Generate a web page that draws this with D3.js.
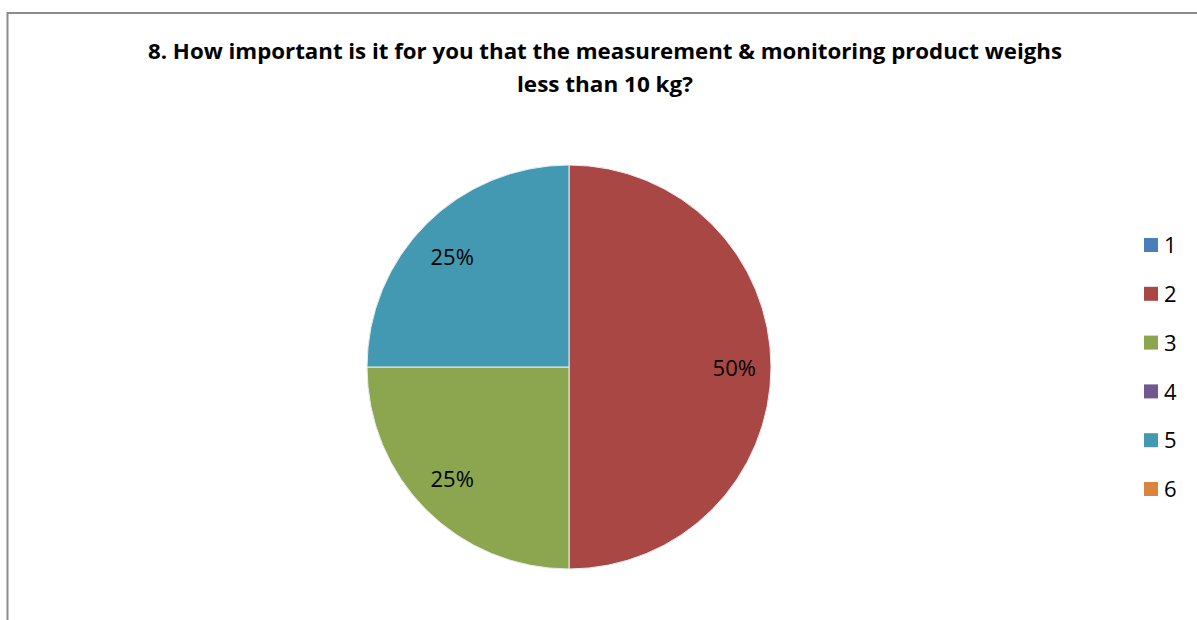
<!DOCTYPE html>
<html>
<head>
<meta charset="utf-8">
<script src="https://cdnjs.cloudflare.com/ajax/libs/d3/7.8.5/d3.min.js"></script>
<style>
  html, body { margin: 0; padding: 0; background: #fff; }
  svg { display: block; }
</style>
</head>
<body>
<div id="chart"></div>
<script>
// chart data
var titleLines = ["8. How important is it for you that the measurement & monitoring product weighs", "less than 10 kg?"];
var categories = ["1", "2", "3", "4", "5", "6"];
var counts = [0, 2, 1, 0, 1, 0];
var colors = ["#4A7EBB", "#A94744", "#8BA64F", "#71588F", "#4399B1", "#DB843D"];

var width = 1197, height = 620;
var font = "'Open Sans', sans-serif";

var svg = d3.select("#chart").append("svg")
    .attr("width", width)
    .attr("height", height);

// chart area border (only left and top visible)
svg.append("rect")
    .attr("x", 7.5).attr("y", 13)
    .attr("width", 1250).attr("height", 700)
    .attr("fill", "none")
    .attr("stroke", "#8c8c8c")
    .attr("stroke-width", 2);

// title
var title = svg.append("text")
    .attr("text-anchor", "middle")
    .attr("font-family", font)
    .attr("font-weight", "bold")
    .attr("font-size", 22)
    .attr("fill", "#000");
title.selectAll("tspan").data(titleLines).enter().append("tspan")
    .attr("x", 605)
    .attr("y", function(d, i) { return 59 + i * 33; })
    .attr("textLength", function(d, i) { return i === 0 ? 914 : 176; })
    .attr("lengthAdjust", "spacingAndGlyphs")
    .text(function(d) { return d; });

// pie
var cx = 569, cy = 367, r = 202;
var total = d3.sum(counts);
var data = categories.map(function(c, i) { return {cat: c, value: counts[i], color: colors[i]}; });

var pie = d3.pie().sort(null).value(function(d) { return d.value; });
var arc = d3.arc().innerRadius(0).outerRadius(r);
var labelArc = d3.arc().innerRadius(r * 0.81).outerRadius(r * 0.81);

var g = svg.append("g").attr("transform", "translate(" + cx + "," + cy + ")");
var arcs = pie(data).filter(function(d) { return d.data.value > 0; });

g.selectAll("path.slice").data(arcs).enter().append("path")
    .attr("class", "slice")
    .attr("d", arc)
    .attr("fill", function(d) { return d.data.color; })
    .attr("stroke", "#e8eef0")
    .attr("stroke-width", 1);

g.selectAll("text.lbl").data(arcs).enter().append("text")
    .attr("class", "lbl")
    .attr("transform", function(d) {
        var c = labelArc.centroid(d);
        return "translate(" + (c[0] * 1.01) + "," + (c[1] * 0.96) + ")";
    })
    .attr("text-anchor", "middle")
    .attr("dy", "0.4em")
    .attr("font-family", font)
    .attr("font-size", 22)
    .attr("fill", "#000")
    .text(function(d) { return Math.round(d.data.value / total * 100) + "%"; });

// legend
var legendY = d3.scalePoint().domain(categories).range([245, 489]);
var lg = svg.append("g");
var items = lg.selectAll("g").data(data).enter().append("g")
    .attr("transform", function(d) { return "translate(1144," + legendY(d.cat) + ")"; });
items.append("rect")
    .attr("x", 0).attr("y", -7)
    .attr("width", 14).attr("height", 14)
    .attr("fill", function(d) { return d.color; });
items.append("text")
    .attr("x", 20).attr("dy", "0.37em")
    .attr("font-family", font)
    .attr("font-size", 22)
    .attr("fill", "#000")
    .text(function(d) { return d.cat; });
</script>
</body>
</html>
